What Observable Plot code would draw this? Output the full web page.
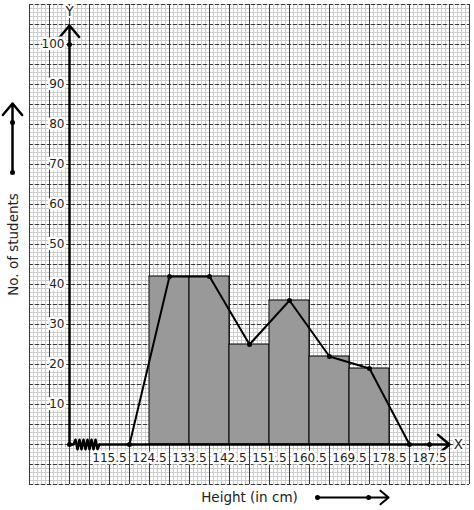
<!DOCTYPE html>
<html><head><meta charset="utf-8">
<script src="https://cdn.jsdelivr.net/npm/d3@7"></script>
<script src="https://cdn.jsdelivr.net/npm/@observablehq/plot@0.6"></script>
<style>body{margin:0;background:#fff} #chart svg{display:block}</style>
</head><body><div id="chart"></div>
<script>
// Data
const classEdges = [124.5, 133.5, 142.5, 151.5, 160.5, 169.5, 178.5];
const frequencies = [42, 42, 25, 36, 22, 19];
const midpoints = [120, 129, 138, 147, 156, 165, 174, 183];
const polygonFreq = [0, 42, 42, 25, 36, 22, 19, 0];
const xTickLabels = ["115.5", "124.5", "133.5", "142.5", "151.5", "160.5", "169.5", "178.5", "187.5"];
const yTickValues = [10, 20, 30, 40, 50, 60, 70, 80, 90, 100];
const xOrigin = 106.5;
const kinkX = [107.4, 107.85, 108.3, 108.75, 109.2, 109.65, 110.1, 110.55, 111.0, 111.45, 111.9, 112.35, 112.8, 113.25];
const kinkY = [0, 1.2, -1.2, 1.2, -1.2, 1.2, -1.2, 1.2, -1.2, 1.2, -1.2, 1.2, -1.2, 0];

const bars = frequencies.map((f, i) => ({x1: classEdges[i], x2: classEdges[i + 1], y: f}));
const polygon = midpoints.map((m, i) => ({x: m, y: polygonFreq[i]}));
const kink = kinkX.map((x, i) => ({x, y: kinkY[i]}));

const xDom = [97.5, 196.5], yDom = [-10, 110];
const minorX = d3.range(0, 111).map(i => xDom[0] + i * 0.9);
const minorY = d3.range(yDom[0], yDom[1] + 0.5, 1);
const majorX = d3.range(0, 23).map(i => xDom[0] + i * 4.5);
const majorY = d3.range(yDom[0], yDom[1] + 0.5, 5);
const fsTick = 12, fsTitle = 13.5, txt = "#222";

const chart = Plot.plot({
  width: 474, height: 510,
  marginLeft: 29, marginRight: 5, marginTop: 4, marginBottom: 26,
  style: {fontFamily: "DejaVu Sans", fontSize: "12px", background: "white"},
  x: {domain: xDom, axis: null},
  y: {domain: yDom, axis: null},
  marks: [
    Plot.ruleX(minorX, {y1: yDom[0], y2: yDom[1], stroke: "#cdcdcd", strokeWidth: 1}),
    Plot.ruleY(minorY, {x1: xDom[0], x2: xDom[1], stroke: "#cdcdcd", strokeWidth: 1}),
    Plot.ruleX(majorX, {y1: yDom[0], y2: yDom[1], stroke: "#3a3a3a", strokeWidth: 1}),
    Plot.ruleY(majorY, {x1: xDom[0], x2: xDom[1], stroke: "#3a3a3a", strokeWidth: 1, strokeDasharray: "4,2"}),
    Plot.rect(bars, {x1: "x1", x2: "x2", y1: 0, y2: "y", fill: "#999999", stroke: "black", strokeWidth: 1}),
    // axes
    Plot.arrow([0], {x1: xOrigin, y1: 0, x2: xOrigin, y2: 104.75, stroke: "black", strokeWidth: 2.5, headLength: 9, headAngle: 80}),
    Plot.ruleY([0], {x1: xOrigin, x2: kinkX[0], stroke: "black", strokeWidth: 2.5}),
    Plot.line(kink, {x: "x", y: "y", stroke: "black", strokeWidth: 2.5}),
    Plot.arrow([0], {x1: kinkX[kinkX.length - 1], y1: 0, x2: 192.0, y2: 0, stroke: "black", strokeWidth: 2.5, headLength: 9, headAngle: 80}),
    Plot.dot([{x: xOrigin, y: 0}, {x: xOrigin, y: 100}, {x: 187.5, y: 0}], {x: "x", y: "y", r: 2.5, fill: "black"}),
    // frequency polygon
    Plot.line(polygon, {x: "x", y: "y", stroke: "black", strokeWidth: 2}),
    Plot.dot(polygon, {x: "x", y: "y", r: 2.5, fill: "black"}),
    // tick labels
    Plot.text(yTickValues, {x: xOrigin, y: d => d, text: d => String(d), textAnchor: "end", dx: -5, fontSize: fsTick, fill: txt, stroke: "white", strokeWidth: 5}),
    Plot.text(xTickLabels, {x: d => +d, y: 0, dy: 14, text: d => d, fontSize: fsTick, fill: txt, stroke: "white", strokeWidth: 5}),
    Plot.text(["Y"], {x: xOrigin, y: 108.25, text: d => d, fontSize: fsTitle, fill: txt, stroke: "white", strokeWidth: 4}),
    Plot.text(["X"], {x: 194.0, y: 0, text: d => d, fontSize: fsTitle, fill: txt, stroke: "white", strokeWidth: 4}),
    // axis titles and decorative arrows
    Plot.text(["Height (in cm)"], {x: 147, y: -13.25, text: d => d, fontSize: fsTitle, fill: txt}),
    Plot.arrow([0], {x1: 162.3, y1: -13.25, x2: 178.3, y2: -13.25, stroke: "black", strokeWidth: 2, headLength: 8, headAngle: 80}),
    Plot.dot([162.3, 173.8], {x: d => d, y: -13.25, r: 2.5, fill: "black"}),
    Plot.text(["No. of students"], {x: 93.9, y: 50, text: d => d, rotate: -90, fontSize: fsTitle, fill: txt}),
    Plot.arrow([0], {x1: 93.675, y1: 68, x2: 93.675, y2: 85.25, stroke: "black", strokeWidth: 2.5, headLength: 9, headAngle: 80}),
    Plot.dot([68, 80.5], {x: 93.675, y: d => d, r: 2.5, fill: "black"})
  ]
});
document.getElementById("chart").appendChild(chart);
</script>
</body></html>
